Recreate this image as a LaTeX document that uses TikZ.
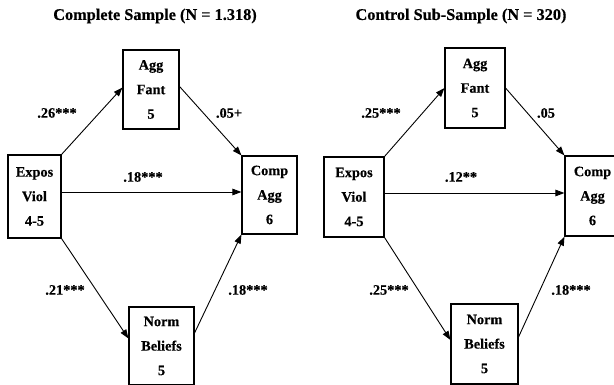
\documentclass[tikz,border=0pt]{standalone}
\usepackage{fontspec}
\setmainfont{Liberation Serif}[BoldFeatures={FakeBold=0.4}]
\usetikzlibrary{arrows.meta}
\begin{document}
\begin{tikzpicture}[x=1pt,y=-1pt,
  vbox/.style={draw,line width=1.1pt,rectangle,inner sep=0pt,align=center,
    font=\fontsize{14.3}{24.5}\selectfont\bfseries},
  lab/.style={font=\fontsize{14.3}{16}\selectfont\bfseries,inner sep=0pt},
  ttl/.style={font=\fontsize{16.3}{18}\selectfont\bfseries,inner sep=0pt},
  arr/.style={line width=0.9pt,-{Triangle[length=9pt,width=6.5pt]}}]
\useasboundingbox[fill=white] (0,0) rectangle (614,385);
% left panel
\node[ttl] (tL) at (155,16) {Complete Sample (N = 1.318)};
\node[vbox,minimum width=56pt,minimum height=79pt] (aggL) at (151,89.5) {Agg\\Fant\\5};
\node[vbox,minimum width=53pt,minimum height=83pt] (expL) at (34.5,196.5) {Expos\\Viol\\4-5};
\node[vbox,minimum width=55pt,minimum height=78pt] (compL) at (269.5,195) {Comp\\Agg\\6};
\node[vbox,minimum width=65pt,minimum height=78pt] (normL) at (161.5,346) {Norm\\Beliefs\\5};
\draw[arr] (expL.north east) -- ([yshift=2pt]aggL.west);
\draw[arr] ([yshift=3pt]aggL.east) -- (compL.north west);
\draw[arr] ([yshift=4.5pt]expL.east) -- ([yshift=3pt]compL.west);
\draw[arr] (expL.south east) -- ([yshift=7.5pt]normL.west);
\draw[arr] ([yshift=13pt]normL.east) -- (compL.south west);
\node[lab] (l1) at (57,113) {.26***};
\node[lab] (l2) at (229,113) {.05+};
\node[lab] (l3) at (143,177) {.18***};
\node[lab] (l4) at (65,290) {.21***};
\node[lab] (l5) at (248,290) {.18***};
% right panel
\node[ttl] (tR) at (461,16) {Control Sub-Sample (N = 320)};
\node[vbox,minimum width=60pt,minimum height=80pt] (aggR) at (475,88) {Agg\\Fant\\5};
\node[vbox,minimum width=60pt,minimum height=80pt] (expR) at (354,197) {Expos\\Viol\\4-5};
\node[vbox,minimum width=55pt,minimum height=80pt] (compR) at (592.5,196) {Comp\\Agg\\6};
\node[vbox,minimum width=67pt,minimum height=80pt] (normR) at (484.5,344) {Norm\\Beliefs\\5};
\draw[arr] (expR.north east) -- (aggR.west);
\draw[arr] (aggR.east) -- (compR.north west);
\draw[arr] ([yshift=4pt]expR.east) -- ([yshift=3pt]compR.west);
\draw[arr] (expR.south east) -- ([yshift=4pt]normR.west);
\draw[arr] ([yshift=7pt]normR.east) -- (compR.south west);
\node[lab] (r1) at (381,113) {.25***};
\node[lab] (r2) at (546,113) {.05};
\node[lab] (r3) at (461,177) {.12**};
\node[lab] (r4) at (389,290) {.25***};
\node[lab] (r5) at (571,290) {.18***};
\end{tikzpicture}
\end{document}
